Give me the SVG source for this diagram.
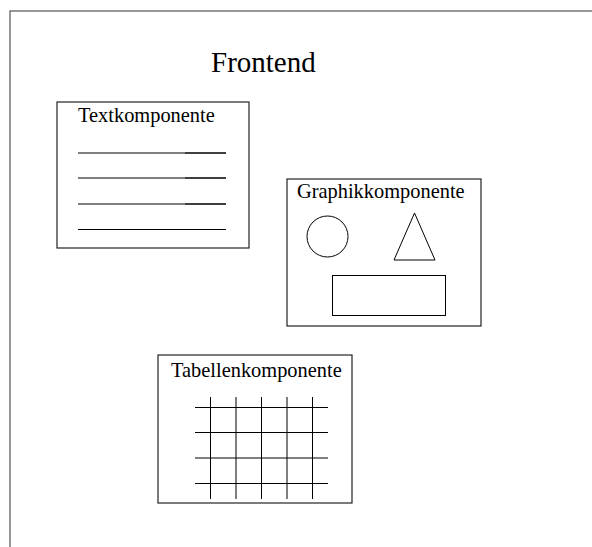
<svg xmlns="http://www.w3.org/2000/svg" width="592" height="547" viewBox="0 0 592 547">
  <style>
    .frame { fill: none; stroke: #555; stroke-width: 1.2; }
    .box { fill: #fff; stroke: #222; stroke-width: 1.2; }
    .shape { fill: none; stroke: #000; stroke-width: 1; }
    .ln { stroke: #000; stroke-width: 1; }
    .title { font-family: "Liberation Serif", "Times New Roman", serif; font-size: 29px; fill: #000; }
    .label { font-family: "Liberation Serif", "Times New Roman", serif; font-size: 20.4px; fill: #000; }
  </style>

  <rect width="592" height="547" fill="#fff"/>

  <!-- Frontend container, runs past the right and bottom edges -->
  <g id="frontend">
    <rect class="frame" x="10" y="11" width="620" height="600"/>
    <text class="title" x="211" y="72">Frontend</text>
  </g>

  <!-- Text component: a few text lines -->
  <g id="textkomponente">
    <rect class="box" x="57" y="102" width="192" height="146"/>
    <text class="label" x="78" y="122">Textkomponente</text>
    <line class="ln" x1="78" y1="153" x2="226" y2="153"/>
    <line class="ln" x1="185" y1="153" x2="226" y2="153"/>
    <line class="ln" x1="78" y1="178" x2="226" y2="178"/>
    <line class="ln" x1="185" y1="178" x2="226" y2="178"/>
    <line class="ln" x1="78" y1="204" x2="226" y2="204"/>
    <line class="ln" x1="185" y1="204" x2="226" y2="204"/>
    <line class="ln" x1="78" y1="229.5" x2="226" y2="229.5"/>
  </g>

  <!-- Graphics component: circle, triangle, rectangle -->
  <g id="graphikkomponente">
    <rect class="box" x="287" y="179" width="194" height="147"/>
    <text class="label" x="297" y="198">Graphikkomponente</text>
    <circle class="shape" cx="327.5" cy="236.5" r="20.5"/>
    <polygon class="shape" points="414.5,213 394,260 435,260"/>
    <rect class="shape" x="332.5" y="275.5" width="113" height="40"/>
  </g>

  <!-- Table component: grid of crossing lines -->
  <g id="tabellenkomponente">
    <rect class="box" x="158" y="355" width="194" height="148"/>
    <text class="label" x="171" y="377">Tabellenkomponente</text>
    <g class="ln">
      <line x1="195" y1="407.5" x2="328" y2="407.5"/>
      <line x1="195" y1="432.5" x2="328" y2="432.5"/>
      <line x1="195" y1="458" x2="328" y2="458"/>
      <line x1="195" y1="483.5" x2="328" y2="483.5"/>
      <line x1="210.5" y1="397" x2="210.5" y2="499"/>
      <line x1="236" y1="397" x2="236" y2="499"/>
      <line x1="261.5" y1="397" x2="261.5" y2="499"/>
      <line x1="287" y1="397" x2="287" y2="499"/>
      <line x1="312.5" y1="397" x2="312.5" y2="499"/>
    </g>
  </g>

  <!-- no connectors between the components -->
  <g id="connectors"/>
</svg>
